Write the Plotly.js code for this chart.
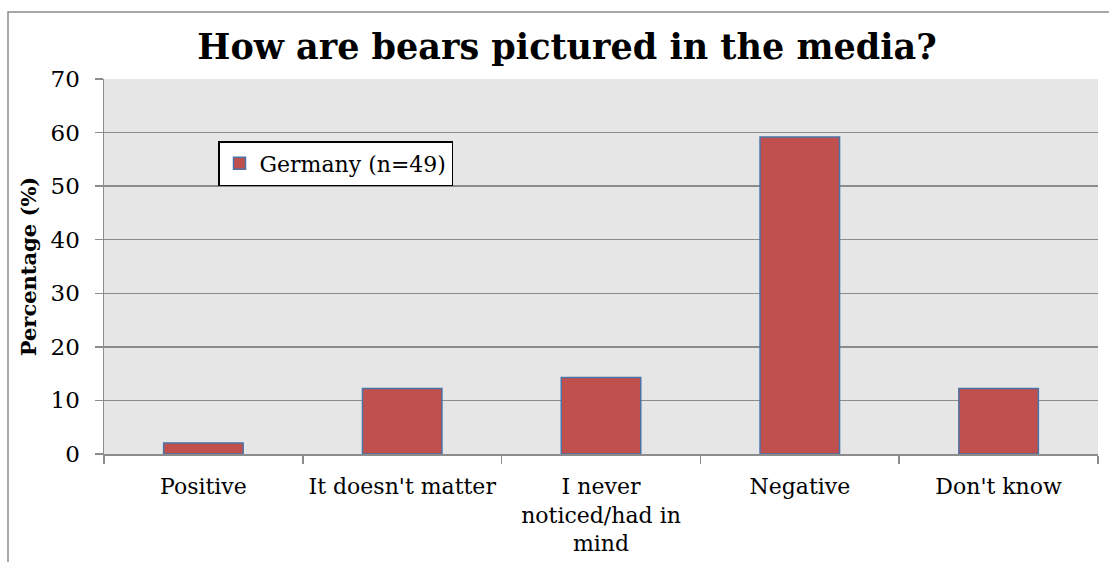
<!DOCTYPE html>
<html>
<head>
<meta charset="utf-8">
<script src="https://cdn.plot.ly/plotly-3.0.1.min.js"></script>
<style>
html,body{margin:0;padding:0;background:#fff;}
#chart{width:1109px;height:562px;}
</style>
</head>
<body>
<div id="chart"></div>
<script>
var categories = ["Positive", "It doesn't matter", "I never<br>noticed/had in<br>mind", "Negative", "Don't know"];
var germanyValues = [2.04, 12.24, 14.29, 59.18, 12.24];
var seriesName = "Germany (n=49)";
var yTickValues = [0, 10, 20, 30, 40, 50, 60, 70];

var W = 1109, H = 562;
var L = 104, R = 11, T = 79, B = 108;
var pw = W - L - R, ph = H - T - B;
function px(x){ return (x - L) / pw; }
function py(y){ return (H - B - y) / ph; }

var serif = "DejaVu Serif, Liberation Serif, serif";

var trace = {
  type: "bar",
  x: categories,
  y: germanyValues,
  name: seriesName,
  width: 0.4,
  marker: {color: "#c0504d", line: {color: "#4a73a8", width: 1.5}},
  showlegend: true,
  hoverinfo: "x+y"
};

var layout = {
  width: W, height: H,
  margin: {l: L, r: R, t: T, b: B, pad: 0},
  paper_bgcolor: "#ffffff",
  plot_bgcolor: "#e6e6e6",
  font: {family: serif, size: 22, color: "#000"},
  title: {
    text: "<b>How are bears pictured in the media?</b>",
    font: {family: serif, size: 35, color: "#000"},
    x: px(567), xref: "paper", xanchor: "center",
    y: 1 - 47 / H, yref: "container", yanchor: "middle"
  },
  xaxis: {
    type: "category",
    showgrid: false,
    showline: true, linecolor: "#8c8c8c", linewidth: 1.5,
    ticks: "outside", tickson: "boundaries", ticklen: 8, tickcolor: "#8c8c8c", tickwidth: 1.5,
    tickfont: {family: serif, size: 22, color: "#000"},
    ticklabelstandoff: 12,
    tickangle: 0,
    automargin: false,
    fixedrange: true
  },
  yaxis: {
    range: [0, 70],
    tickvals: yTickValues,
    showgrid: true, gridcolor: "#8c8c8c", gridwidth: 1.5,
    zeroline: false,
    showline: true, linecolor: "#8c8c8c", linewidth: 1.5,
    ticks: "outside", ticklen: 8, tickcolor: "#8c8c8c", tickwidth: 1.5,
    tickfont: {family: serif, size: 23, color: "#000"},
    ticklabelstandoff: 10,
    title: {text: "<b>Percentage (%)</b>", font: {family: serif, size: 21, color: "#000"}, standoff: 8},
    automargin: false,
    fixedrange: true
  },
  legend: {
    x: px(218), y: py(141), xanchor: "left", yanchor: "top",
    bgcolor: "#ffffff", bordercolor: "#000000", borderwidth: 1.5,
    font: {family: serif, size: 22, color: "#000"},
    itemwidth: 30
  },
  bargap: 0.6,
  shapes: [{
    type: "path", xref: "paper", yref: "paper",
    path: "M " + px(8) + " " + py(H + 5) + " L " + px(8) + " " + py(12) + " L " + px(W + 5) + " " + py(12),
    line: {color: "#8c8c8c", width: 1.5}
  }]
};

Plotly.newPlot("chart", [trace], layout, {displayModeBar: false, staticPlot: true});
</script>
</body>
</html>
